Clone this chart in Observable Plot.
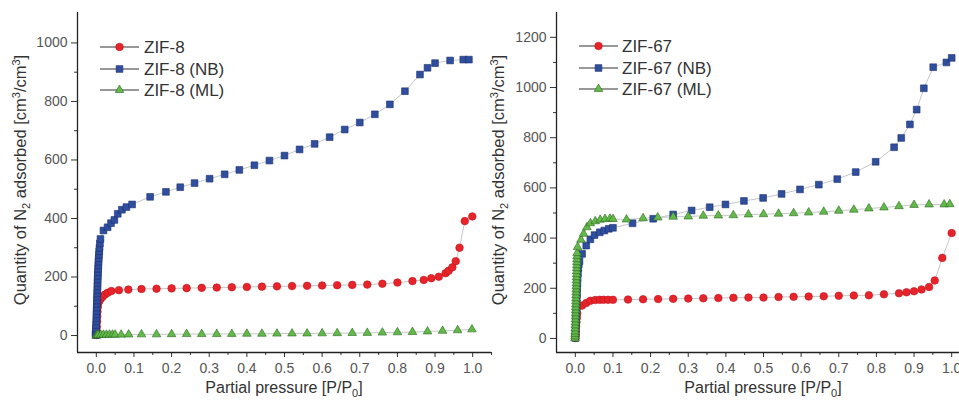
<!DOCTYPE html>
<html><head><meta charset="utf-8">
<script src="https://cdn.jsdelivr.net/npm/d3@7"></script>
<script src="https://cdn.jsdelivr.net/npm/@observablehq/plot@0.6"></script>
<style>
body{margin:0;background:#fff;overflow:hidden;font-family:"Liberation Sans",Arial,sans-serif;}
#wrap{position:relative;width:959px;height:402px;overflow:hidden;background:#fff;}
.panel{position:absolute;top:0;width:520px;height:402px;}
.panel svg{max-width:none !important;}
#overlay{position:absolute;left:0;top:0;pointer-events:none;}
</style></head>
<body><div id="wrap"><div class="panel" id="left" style="left:0"></div><div class="panel" id="right" style="left:480px"></div><svg id="overlay" width="959" height="402"></svg></div>
<script>
// ---------- data: left panel (ZIF-8) ----------
const zif8P = [0.0005,0.001,0.0015,0.002,0.0025,0.003,0.004,0.005,0.008,0.012,0.017,0.023,0.03,0.04,0.06,0.085,0.12,0.16,0.2,0.24,0.28,0.32,0.36,0.4,0.44,0.48,0.52,0.56,0.6,0.64,0.68,0.72,0.76,0.8,0.84,0.87,0.89,0.91,0.928,0.936,0.946,0.955,0.965,0.979,0.999];
const zif8V = [2,15,30,48,65,82,98,110,118,126,133,140,146,152,155,157,159,160,161,162,163,164,165,166,167,168,169,170,171,172,173,174,177,181,186,190,196,201,213,221,233,254,300,391,407];
const zif8nbP = [-0.002,-0.0015,-0.001,-0.0005,0,0.0003,0.0006,0.0009,0.0012,0.0015,0.0018,0.0021,0.0024,0.0027,0.003,0.0033,0.0036,0.004,0.0044,0.0048,0.0053,0.0058,0.0064,0.007,0.0077,0.0085,0.0095,0.011,0.019,0.03,0.039,0.048,0.057,0.068,0.08,0.095,0.143,0.185,0.223,0.261,0.301,0.341,0.38,0.42,0.46,0.5,0.54,0.58,0.62,0.66,0.70,0.74,0.78,0.82,0.86,0.88,0.90,0.94,0.975,0.99];
const zif8nbV = [2,12,24,36,48,60,72,84,96,108,120,132,144,156,168,180,192,204,216,228,240,252,264,276,288,300,315,330,359,370,384,395,416,430,439,448,474,491,507,521,536,551,566,582,598,615,636,655,678,704,728,756,790,835,892,915,931,940,943,943];
const zif8mlP = [0.0005,0.001,0.002,0.003,0.005,0.012,0.019,0.027,0.035,0.043,0.05,0.066,0.086,0.12,0.16,0.2,0.24,0.28,0.32,0.36,0.4,0.44,0.48,0.52,0.56,0.6,0.64,0.68,0.72,0.76,0.8,0.84,0.88,0.92,0.96,0.998];
const zif8mlV = [0,0.5,1,1.5,2,2,2.5,2.5,3,3,3,3,3.5,4,4,4.5,5,5,5,5.5,6,6,6.5,7,7,7.5,8,8.5,9,10,11,12,14,16,18,21];

// ---------- data: right panel (ZIF-67) ----------
const zif67P = [0.0005,0.001,0.0015,0.002,0.003,0.004,0.005,0.006,0.018,0.029,0.04,0.053,0.065,0.075,0.087,0.1,0.14,0.18,0.22,0.26,0.3,0.34,0.38,0.42,0.46,0.5,0.54,0.58,0.62,0.66,0.7,0.74,0.78,0.82,0.86,0.88,0.9,0.92,0.94,0.955,0.975,1.0];
const zif67V = [2,15,30,48,65,82,100,125,131,141,150,153,154,154,154,154,155,156,157,158,159,160,161,162,163,163,165,166,167,168,170,171,172,176,180,184,188,195,205,231,321,420];
const zif67nbP = [0.0003,0.0006,0.001,0.0015,0.002,0.0025,0.003,0.0035,0.004,0.0045,0.005,0.0055,0.006,0.007,0.008,0.009,0.011,0.018,0.029,0.04,0.051,0.065,0.077,0.089,0.1,0.152,0.207,0.26,0.309,0.357,0.399,0.448,0.499,0.548,0.597,0.647,0.696,0.745,0.798,0.847,0.866,0.889,0.907,0.926,0.951,0.986,1.0];
const zif67nbV = [2,20,40,60,80,100,120,140,160,180,200,220,240,260,280,295,308,337,370,395,412,423,430,437,441,459,477,494,510,523,534,548,560,576,594,613,635,663,704,762,799,853,912,997,1081,1100,1118];
const zif67mlP = [-0.001,-0.0008,-0.0006,-0.0004,-0.0002,0,0.0002,0.0004,0.0006,0.0008,0.001,0.0012,0.0014,0.0016,0.0018,0.002,0.0022,0.0024,0.0026,0.0028,0.003,0.0032,0.0034,0.0036,0.0038,0.004,0.0042,0.0044,0.0046,0.0048,0.006,0.015,0.022,0.031,0.04,0.053,0.066,0.079,0.092,0.1,0.136,0.18,0.219,0.26,0.30,0.34,0.38,0.42,0.46,0.5,0.54,0.58,0.62,0.66,0.70,0.74,0.78,0.82,0.86,0.90,0.94,0.98,0.995];
const zif67mlV = [0,8,18,28,40,52,64,76,88,100,112,124,136,148,160,172,184,196,208,220,232,244,256,268,280,292,304,316,328,340,364,393,417,443,459,467,473,476,477,476,474,479,482,485,486,489,490,491,494,495,497,499,502,505,509,513,518,522,527,532,534,534,535];

// ---------- axes ----------
const xMajor = [0,0.1,0.2,0.3,0.4,0.5,0.6,0.7,0.8,0.9,1.0];
const xMinor = [0.05,0.15,0.25,0.35,0.45,0.55,0.65,0.75,0.85,0.95,1.05];
const xDomain = [-0.05, 1.05];
const leftYMajor = [0,200,400,600,800,1000];
const leftYMinor = [100,300,500,700,900];
const leftYDomain = [-58, 1104];
const rightYMajor = [0,200,400,600,800,1000,1200];
const rightYMinor = [100,300,500,700,900,1100];
const rightYDomain = [-56, 1299];

const names8 = ["ZIF-8","ZIF-8 (NB)","ZIF-8 (ML)"];
const names67 = ["ZIF-67","ZIF-67 (NB)","ZIF-67 (ML)"];

const styles = [
  {symbol:"circle", r:3.8, fill:"#e8232a", stroke:"#b8161c"},
  {symbol:"square", r:3.8, fill:"#2f4e9e", stroke:"#1c3170"},
  {symbol:"triangle", r:3.2, fill:"#63b94a", stroke:"#2b6a20"}
];

function rows(P, V){ return P.map((p,i)=>({p, v:V[i]})); }

function panel(series, yDomain, yMajor, yMinor, marginLeft){
  const marks = [];
  series.forEach(d => marks.push(Plot.line(d, {x:"p", y:"v", stroke:"#b8b8b8", strokeWidth:0.8})));
  series.forEach((d,i) => marks.push(Plot.dot(d, {x:"p", y:"v", symbol:styles[i].symbol, r:styles[i].r, fill:styles[i].fill, stroke:styles[i].stroke, strokeWidth:0.6})));
  marks.push(Plot.axisX({ticks:xMajor, tickSize:5, tickPadding:6, tickFormat:d3.format(".1f"), stroke:"#333", fill:"#555", fontSize:14, label:null}));
  marks.push(Plot.axisX({ticks:xMinor, tickSize:3, tickFormat:()=>"", stroke:"#333", label:null}));
  marks.push(Plot.axisY({ticks:yMajor, tickSize:6, tickPadding:4, tickFormat:d3.format("d"), stroke:"#333", fill:"#555", fontSize:14, label:null}));
  marks.push(Plot.axisY({ticks:yMinor, tickSize:3, tickFormat:()=>"", stroke:"#333", label:null}));
  marks.push(Plot.ruleX([xDomain[0]], {stroke:"#222", strokeWidth:1.3}));
  marks.push(Plot.ruleY([yDomain[0]], {stroke:"#222", strokeWidth:1.3}));
  return Plot.plot({
    width: marginLeft + 414 + 5, height: 402,
    marginLeft, marginRight: 5, marginTop: 12, marginBottom: 50,
    x: {domain: xDomain, label: null},
    y: {domain: yDomain, label: null},
    style: {fontFamily: "'Liberation Sans', Arial, sans-serif", fontSize: "14px", background: "transparent", overflow: "visible", maxWidth: "none"},
    marks
  });
}

document.getElementById("left").append(panel([rows(zif8P,zif8V), rows(zif8nbP,zif8nbV), rows(zif8mlP,zif8mlV)], leftYDomain, leftYMajor, leftYMinor, 77));
document.getElementById("right").append(panel([rows(zif67P,zif67V), rows(zif67nbP,zif67nbV), rows(zif67mlP,zif67mlV)], rightYDomain, rightYMajor, rightYMinor, 76));

// ---------- overlay: axis titles and legends ----------
const ov = d3.select("#overlay").style("font-family","'Liberation Sans', Arial, sans-serif");
function yTitle(cx){
  const t = ov.append("text").attr("transform",`translate(${cx},180) rotate(-90)`).attr("text-anchor","middle").attr("font-size",16.5).attr("fill","#333");
  t.append("tspan").text("Quantity of N");
  t.append("tspan").attr("dy",4).attr("font-size",11).text("2");
  t.append("tspan").attr("dy",-4).text(" adsorbed [cm");
  t.append("tspan").attr("dy",-6).attr("font-size",11).text("3");
  t.append("tspan").attr("dy",6).text("/cm");
  t.append("tspan").attr("dy",-6).attr("font-size",11).text("3");
  t.append("tspan").attr("dy",6).text("]");
}
function xTitle(cx){
  const t = ov.append("text").attr("x",cx).attr("y",393).attr("text-anchor","middle").attr("font-size",16).attr("fill","#333");
  t.append("tspan").text("Partial pressure [P/P");
  t.append("tspan").attr("dy",4).attr("font-size",11).text("0");
  t.append("tspan").attr("dy",-4).text("]");
}
function legend(names, x0, x1, tx, ys){
  names.forEach((n,i)=>{
    const y = ys[i];
    ov.append("line").attr("x1",x0).attr("x2",x1).attr("y1",y).attr("y2",y).attr("stroke","#333").attr("stroke-width",1.2);
    const sym = {circle:d3.symbolCircle, square:d3.symbolSquare, triangle:d3.symbolTriangle}[styles[i].symbol];
    ov.append("path").attr("transform",`translate(${(x0+x1)/2},${y})`).attr("d", d3.symbol(sym, Math.PI*styles[i].r*styles[i].r)()).attr("fill",styles[i].fill).attr("stroke",styles[i].stroke).attr("stroke-width",0.6);
    ov.append("text").attr("x",tx).attr("y",y).attr("dy","0.36em").attr("font-size",17).attr("fill","#333").text(n);
  });
}
yTitle(25.5); yTitle(503.5);
xTitle(284); xTitle(763);
legend(names8, 100, 139, 144, [47,69,90]);
legend(names67, 579, 618, 622, [46,68,89]);
</script></body></html>
